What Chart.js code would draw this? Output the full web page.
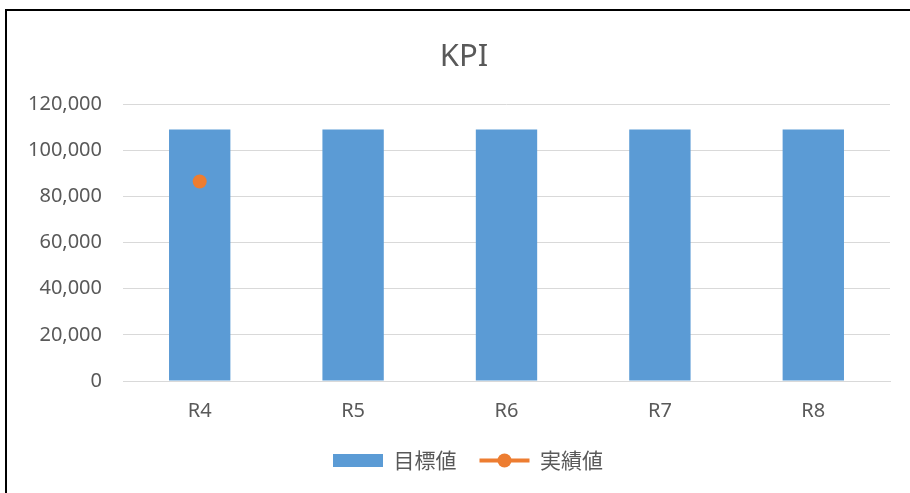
<!DOCTYPE html>
<html>
<head>
<meta charset="utf-8">
<script src="https://cdn.jsdelivr.net/npm/chart.js@4/dist/chart.umd.min.js"></script>
<style>
  html, body { margin: 0; padding: 0; background: #fff; overflow: hidden; }
  #frame { position: absolute; left: 5px; top: 9px; width: 1000px; height: 1000px; border: 2px solid #000; box-sizing: border-box; }
  #wrap { position: absolute; left: 0; top: 0; width: 910px; height: 493px; }
</style>
</head>
<body>
<div id="frame"></div>
<div id="wrap"><canvas id="kpiChart"></canvas></div>
<script>
// Chart data
const categories = ['R4', 'R5', 'R6', 'R7', 'R8'];
const targetValues = [109000, 109000, 109000, 109000, 109000];
const actualValues = [86500, null, null, null, null];
const seriesNames = ['目標値', '実績値'];

const textColor = '#595959';
const latinFont = "'Noto Sans', 'Noto Sans CJK JP', sans-serif";
const cjkFont = "'Noto Sans CJK JP', 'Noto Sans', sans-serif";

// The original frame is a bit wider than the window, so title and legend sit right of centre
const shiftBoxes = {
    id: 'shiftBoxes',
    afterLayout(chart) {
        const t = chart.titleBlock;
        if (t) { t.left += 19; t.right += 19; }
        const l = chart.legend;
        if (l) { l.left += 23; l.right += 23; l.top += 4; l.bottom += 4; }
    }
};

// Draw a dot in the middle of the line legend item
const legendDot = {
    id: 'legendDot',
    afterDraw(chart) {
        const legend = chart.legend;
        if (!legend || !legend.legendHitBoxes) return;
        const box = legend.legendHitBoxes[1];
        const ctx = chart.ctx;
        const w = legend.options.labels.pointStyleWidth;
        ctx.save();
        ctx.fillStyle = '#ED7D31';
        ctx.beginPath();
        ctx.arc(box.left + w / 2, box.top + box.height / 2, 7, 0, Math.PI * 2);
        ctx.fill();
        ctx.restore();
    }
};

const ctx = document.getElementById('kpiChart').getContext('2d');
new Chart(ctx, {
    data: {
        labels: categories,
        datasets: [
            {
                type: 'line',
                label: seriesNames[1],
                data: actualValues,
                borderColor: '#ED7D31',
                backgroundColor: '#ED7D31',
                borderWidth: 4,
                pointRadius: 7,
                pointHoverRadius: 7,
                pointBorderWidth: 0,
                order: 0
            },
            {
                type: 'bar',
                label: seriesNames[0],
                data: targetValues,
                backgroundColor: '#5B9BD5',
                categoryPercentage: 1,
                barPercentage: 0.4,
                order: 1
            }
        ]
    },
    options: {
        responsive: true,
        maintainAspectRatio: false,
        animation: false,
        layout: { padding: { left: 0, right: 20, top: 0, bottom: 16 } },
        scales: {
            x: {
                grid: { display: true, drawOnChartArea: false, drawTicks: true, tickLength: 18, tickColor: 'rgba(0,0,0,0)' },
                border: { display: true, color: '#D9D9D9', width: 1 },
                ticks: { color: textColor, font: { family: latinFont, size: 20 }, padding: 0 }
            },
            y: {
                min: 0,
                max: 120000,
                afterFit(scale) { scale.width = 123; },
                grid: { color: '#D9D9D9', lineWidth: 1, drawTicks: false },
                border: { display: false },
                ticks: {
                    stepSize: 20000,
                    color: textColor,
                    padding: 21,
                    font: { family: latinFont, size: 20 },
                    callback: v => v.toLocaleString('en-US')
                }
            }
        },
        plugins: {
            title: {
                display: true,
                text: 'KPI',
                color: textColor,
                font: { family: latinFont, size: 31, weight: 'normal' },
                padding: { top: 39, bottom: 28 }
            },
            legend: {
                position: 'bottom',
                reverse: true,
                labels: {
                    color: textColor,
                    font: { family: cjkFont, size: 21 },
                    usePointStyle: true,
                    pointStyleWidth: 50,
                    boxHeight: 13,
                    padding: 23,
                    generateLabels(chart) {
                        const items = Chart.defaults.plugins.legend.labels.generateLabels(chart);
                        items.forEach(item => {
                            if (item.datasetIndex === 0) {
                                item.pointStyle = 'line';
                                item.strokeStyle = '#ED7D31';
                                item.lineWidth = 4;
                            } else {
                                item.pointStyle = 'rect';
                                item.lineWidth = 0;
                            }
                        });
                        return items;
                    }
                }
            },
            tooltip: { enabled: false }
        }
    },
    plugins: [shiftBoxes, legendDot]
});
</script>
</body>
</html>
